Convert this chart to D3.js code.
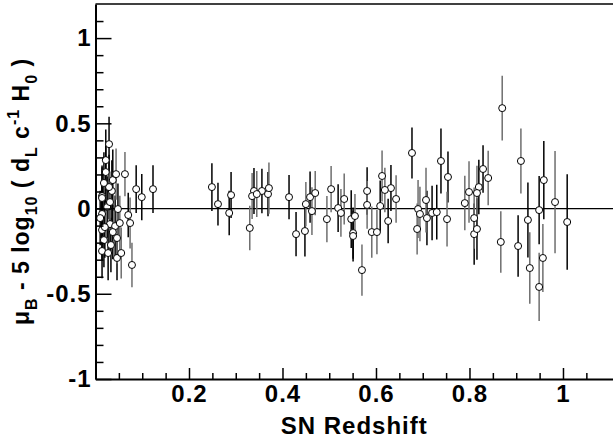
<!DOCTYPE html>
<html>
<head>
<meta charset="utf-8">
<script src="https://cdn.jsdelivr.net/npm/d3@7"></script>
<style>
  body { margin: 0; background: #fff; }
  svg { display: block; }
</style>
</head>
<body>
<div class="chart"></div>
<script>
var w = 613;
var h = 439;
var plotL = 95.5, plotR = 613, plotT = 4, plotB = 379;
var R = 3.5;
var fontFam = "'Liberation Sans', Arial, Helvetica, sans-serif";

// [redshift, residual, error]
var sampleA = [
  [0.029, 0.378, 0.16], [0.037, 0.167, 0.18], [0.035, 0.103, 0.18], [0.029, 0.126, 0.19],
  [0.014, 0.073, 0.18], [0.048, -0.003, 0.15], [0.070, -0.038, 0.13], [0.031, -0.091, 0.18],
  [0.042, -0.103, 0.18], [0.014, -0.032, 0.18], [0.014, -0.126, 0.18], [0.020, -0.109, 0.18],
  [0.014, -0.249, 0.16], [0.027, -0.261, 0.16], [0.046, -0.290, 0.13], [0.025, 0.009, 0.18],
  [0.018, 0.150, 0.18], [0.014, 0.062, 0.18], [0.022, 0.284, 0.18], [0.018, -0.185, 0.16],
  [0.033, -0.214, 0.16], [0.010, -0.056, 0.16], [0.022, 0.214, 0.18], [0.037, -0.138, 0.16],
  [0.087, 0.114, 0.14], [0.099, 0.067, 0.135], [0.123, 0.114, 0.14],
  [0.249, 0.126, 0.14], [0.262, 0.026, 0.125], [0.286, -0.026, 0.13], [0.290, 0.079, 0.135],
  [0.339, 0.103, 0.135], [0.356, 0.103, 0.13], [0.369, 0.085, 0.13], [0.414, 0.067, 0.13],
  [0.429, -0.150, 0.13], [0.448, -0.132, 0.15], [0.459, 0.067, 0.15], [0.519, 0.003, 0.14],
  [0.547, -0.062, 0.17], [0.551, -0.144, 0.15], [0.551, -0.161, 0.15], [0.581, 0.103, 0.14],
  [0.609, 0.015, 0.15], [0.626, -0.073, 0.13], [0.632, 0.120, 0.135], [0.677, 0.326, 0.15],
  [0.709, -0.056, 0.16], [0.720, -0.026, 0.16], [0.730, -0.021, 0.16], [0.739, 0.279, 0.19],
  [0.754, 0.185, 0.15], [0.810, -0.150, 0.18], [0.816, -0.120, 0.18], [0.820, 0.126, 0.16],
  [0.829, 0.232, 0.14], [0.904, -0.220, 0.18], [0.925, -0.067, 0.22], [0.949, -0.009, 0.20],
  [0.959, 0.167, 0.23], [1.009, -0.079, 0.28]
];

var sampleB = [
  [0.044, 0.202, 0.15], [0.063, 0.202, 0.13], [0.031, 0.038, 0.18], [0.074, -0.085, 0.15],
  [0.052, -0.085, 0.16], [0.046, -0.173, 0.15], [0.055, -0.261, 0.15], [0.078, -0.331, 0.13],
  [0.330, -0.114, 0.13], [0.335, 0.073, 0.135], [0.345, 0.085, 0.135], [0.371, 0.120, 0.15],
  [0.450, 0.026, 0.13], [0.463, -0.015, 0.14], [0.470, 0.091, 0.13], [0.495, -0.062, 0.135],
  [0.504, 0.114, 0.135], [0.525, -0.026, 0.14], [0.532, 0.056, 0.15], [0.555, -0.044, 0.13],
  [0.570, -0.361, 0.15], [0.581, 0.021, 0.14], [0.591, -0.138, 0.15], [0.602, -0.138, 0.13],
  [0.613, 0.191, 0.15], [0.619, 0.109, 0.13], [0.643, 0.056, 0.14], [0.690, -0.003, 0.17],
  [0.694, -0.032, 0.16], [0.688, -0.120, 0.15], [0.707, 0.050, 0.19], [0.752, -0.062, 0.16],
  [0.790, 0.032, 0.16], [0.799, 0.097, 0.18], [0.810, -0.056, 0.18], [0.816, 0.091, 0.16],
  [0.840, 0.179, 0.16], [0.870, 0.589, 0.19], [0.867, -0.196, 0.18], [0.910, 0.279, 0.19],
  [0.929, -0.349, 0.21], [0.949, -0.460, 0.20], [0.957, -0.290, 0.20], [0.983, 0.038, 0.30]
];

var xMajor = [0.2, 0.4, 0.6, 0.8, 1.0];
var xMinor = [0.05, 0.1, 0.15, 0.25, 0.3, 0.35, 0.45, 0.5, 0.55, 0.65, 0.7, 0.75, 0.85, 0.9, 0.95, 1.05];
var yMajor = [-1, -0.5, 0, 0.5, 1];
var yMinor = [-0.9, -0.8, -0.7, -0.6, -0.4, -0.3, -0.2, -0.1, 0.1, 0.2, 0.3, 0.4, 0.6, 0.7, 0.8, 0.9, 1.1];

var xScale = d3.scaleLinear().domain([0, 1.107]).range([plotL, plotR]);
var yScale = d3.scaleLinear().domain([-1, 1.2]).range([plotB, plotT]);

var svg = d3.select(".chart").append("svg")
  .attr("width", w)
  .attr("height", h);

// frame top
svg.append("line").attr("x1", plotL).attr("x2", plotR).attr("y1", plotT).attr("y2", plotT)
  .attr("stroke", "#000").attr("stroke-width", 1.5);

// zero line
svg.append("line")
  .attr("x1", plotL).attr("x2", plotR)
  .attr("y1", yScale(0)).attr("y2", yScale(0))
  .attr("stroke", "#000").attr("stroke-width", 1.2);

function drawSample(data, barColor) {
  var g = svg.append("g");
  g.selectAll("line.err").data(data).enter().append("line")
    .attr("class", "err")
    .attr("x1", d => xScale(d[0])).attr("x2", d => xScale(d[0]))
    .attr("y1", d => yScale(d[1] + d[2])).attr("y2", d => yScale(d[1] - d[2]))
    .attr("stroke", barColor).attr("stroke-width", 1.5);
  return g;
}
drawSample(sampleA, "#000");
drawSample(sampleB, "#6e6e6e");

// markers on top of all bars
svg.append("g").selectAll("circle")
  .data(sampleA.concat(sampleB)).enter().append("circle")
  .attr("cx", d => xScale(d[0])).attr("cy", d => yScale(d[1]))
  .attr("r", R)
  .attr("fill", "#fff").attr("stroke", "#000").attr("stroke-width", 1);

function styleAxis(g) {
  g.select(".domain").attr("stroke", "#000").attr("stroke-width", 2);
  g.selectAll(".tick line").attr("stroke", "#000").attr("stroke-width", 1.5);
  g.selectAll("text")
    .attr("fill", "#000")
    .style("font-family", fontFam)
    .style("font-weight", "bold")
    .style("font-size", "24px")
    .style("letter-spacing", "1px");
}

var plainFmt = d => String(d); // plain hyphen minus like the original

// x axis
svg.append("g").attr("transform", `translate(0,${plotB})`)
  .call(d3.axisBottom(xScale).tickValues(xMinor).tickSize(-6).tickFormat(""))
  .call(g => g.select(".domain").remove())
  .selectAll("line").attr("stroke", "#000").attr("stroke-width", 1.5);
svg.append("g").attr("transform", `translate(0,${plotB})`)
  .call(d3.axisBottom(xScale).tickValues(xMajor).tickSizeInner(-11).tickSizeOuter(0)
        .tickPadding(6).tickFormat(plainFmt))
  .call(styleAxis);

// y axis
svg.append("g").attr("transform", `translate(${plotL},0)`)
  .call(d3.axisLeft(yScale).tickValues(yMinor).tickSize(-8).tickFormat(""))
  .call(g => g.select(".domain").remove())
  .selectAll("line").attr("stroke", "#000").attr("stroke-width", 1.5);
svg.append("g").attr("transform", `translate(${plotL},0)`)
  .call(d3.axisLeft(yScale).tickValues(yMajor).tickSizeInner(-16).tickSizeOuter(0)
        .tickPadding(4).tickFormat(plainFmt))
  .call(styleAxis);

// x title
svg.append("text")
  .attr("x", (plotL + plotR) / 2).attr("y", 434)
  .attr("text-anchor", "middle")
  .style("font-family", fontFam).style("font-weight", "bold")
  .style("font-size", "24px").style("letter-spacing", "1px")
  .text("SN Redshift");

// y title with sub/superscripts
var yt = svg.append("text")
  .attr("transform", `translate(29,${(plotT + plotB) / 2}) rotate(-90)`)
  .attr("text-anchor", "middle")
  .style("font-family", fontFam).style("font-weight", "bold")
  .style("font-size", "23px")
  .style("letter-spacing", "1px");
var parts = [
  ["μ", 0], ["B", 1], [" - 5 log", 0], ["10", 1], [" ( d", 0], ["L", 1],
  [" c", 0], ["-1", -1], [" H", 0], ["0", 1], [" )", 0]
];
var shift = 0;
parts.forEach(function(p) {
  var target = p[1] === 1 ? 8 : (p[1] === -1 ? -10 : 0);
  yt.append("tspan")
    .attr("dy", target - shift)
    .style("font-size", p[1] === 0 ? "23px" : "16px")
    .text(p[0]);
  shift = target;
});
</script>
</body>
</html>
